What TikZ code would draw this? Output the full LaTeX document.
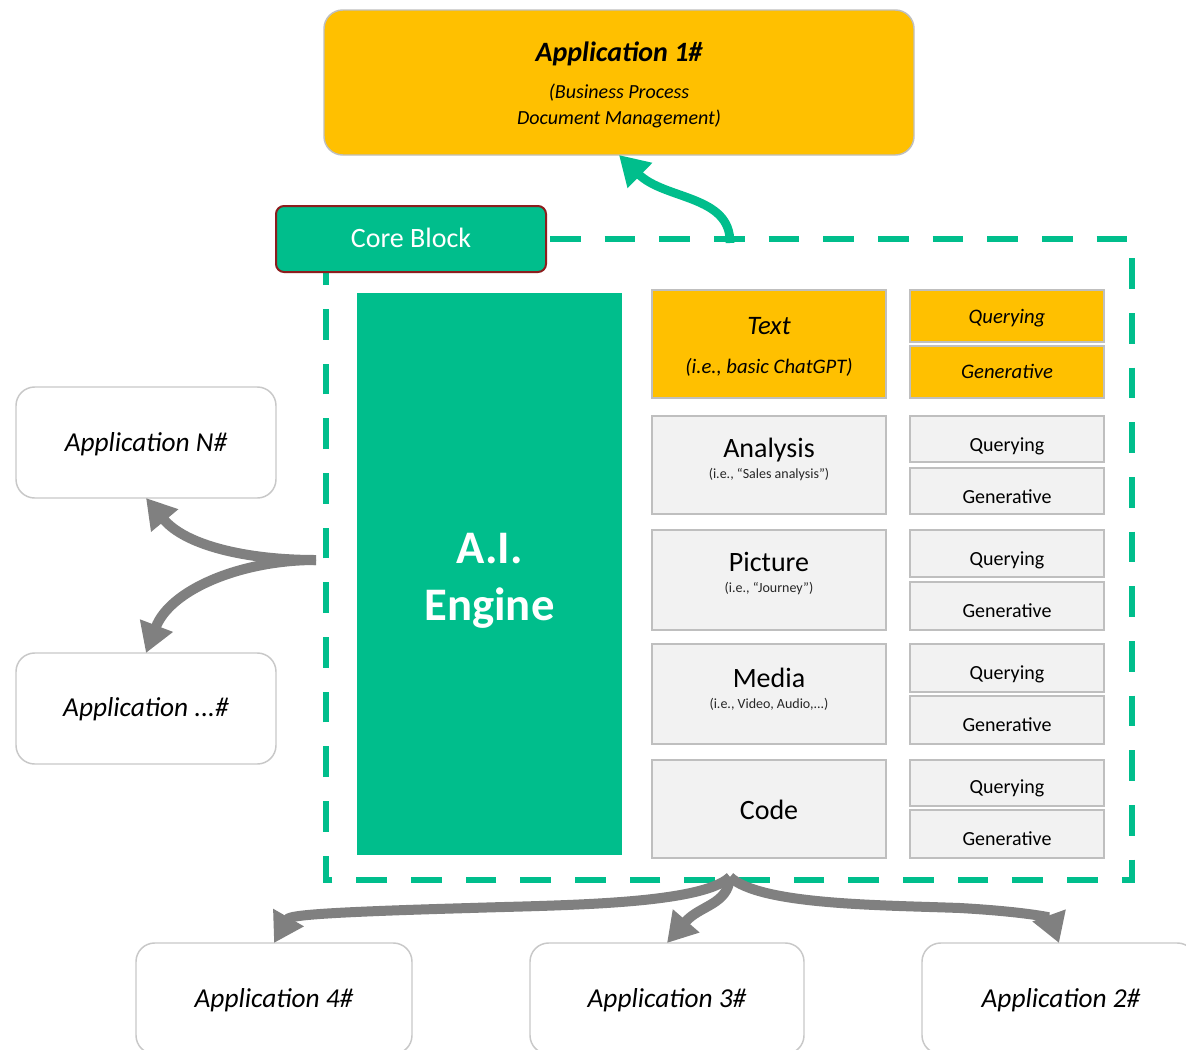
\documentclass[tikz,border=0pt]{standalone}
\usepackage{fontspec}
\setmainfont{Carlito}
\usetikzlibrary{arrows.meta}

\definecolor{coregreen}{RGB}{0,190,140}
\definecolor{amber}{RGB}{255,192,0}
\definecolor{panel}{RGB}{242,242,242}
\definecolor{panelline}{RGB}{191,191,191}
\definecolor{appline}{RGB}{200,200,200}
\definecolor{flowgray}{RGB}{128,128,128}
\definecolor{corered}{RGB}{140,30,30}

\tikzset{
  appbox/.style={draw=appline, line width=1.1pt, fill=white, rounded corners=14pt,
    minimum height=83.25pt, inner sep=0pt, outer sep=0pt},
  cell/.style={draw=panelline, line width=1.1pt, fill=panel, inner sep=0pt, outer sep=0pt},
  hotcell/.style={cell, fill=amber},
  leftcell/.style={minimum width=175.5pt},
  rightcell/.style={minimum width=145.5pt},
  apptext/.style={font=\fontsize{20.5}{24}\selectfont\itshape, anchor=base, inner sep=0pt},
  title/.style={font=\fontsize{21}{24}\selectfont, anchor=base, inner sep=0pt},
  subtitle/.style={font=\fontsize{10.5}{12}\selectfont, anchor=base, inner sep=0pt, text=black!85},
  mode/.style={font=\fontsize{15}{18}\selectfont, anchor=base, inner sep=0pt},
  dashframe/.style={draw=coregreen, line width=4.5pt, dash pattern=on 23pt off 18pt},
  flow/.style={draw=flowgray, line width=7.5pt, -{Triangle[length=22pt,width=25pt]}},
  upflow/.style={draw=coregreen, line width=6.5pt, -{Triangle[length=22pt,width=25pt]}},
}

\begin{document}
\begin{tikzpicture}[x=0.75pt,y=-0.75pt]
\useasboundingbox (0,0) rectangle (1186,1050);
\fill[white] (0,0) rectangle (1186,1050);
\clip (0,0) rectangle (1186,1050);

% top application
\node[appbox, fill=amber, draw=panelline, minimum width=442.5pt, minimum height=108.75pt] (app1) at (619,82.5) {};
\node[title, font=\fontsize{21}{24}\selectfont\bfseries\itshape] (app1t) at (619,61) {Application 1\#};
\node[mode, font=\fontsize{15}{18}\selectfont\itshape] (app1a) at (619,98) {(Business Process};
\node[mode, font=\fontsize{15}{18}\selectfont\itshape] (app1b) at (619,124) {Document Management)};

% dashed frame of the core block, starting next to the label
\draw[dashframe] (550,239) -- (1132,239) -- (1132,880) -- (326,880) -- (326,239) -- (550,239);

% core block label
\node[draw=corered, line width=1.5pt, fill=coregreen, rounded corners=6pt,
      minimum width=202.5pt, minimum height=49.5pt, inner sep=0pt] (core) at (411,239) {};
\node[title, text=white] (coret) at (411,247) {Core Block};

% A.I. engine
\node[fill=coregreen, minimum width=198.75pt, minimum height=421.5pt, inner sep=0pt] (engine) at (489.5,574) {};
\node[font=\fontsize{35}{40}\selectfont\bfseries, text=white, anchor=base, inner sep=0pt] (engA) at (489.5,563) {A.I.};
\node[font=\fontsize{35}{40}\selectfont\bfseries, text=white, anchor=base, inner sep=0pt] (engB) at (489.5,620) {Engine};

% content types
\node[hotcell, leftcell, minimum height=81pt] (cText) at (769,344) {};
\node[cell, leftcell, minimum height=73.5pt] (cAnalysis) at (769,465) {};
\node[cell, leftcell, minimum height=75pt] (cPicture) at (769,580) {};
\node[cell, leftcell, minimum height=75pt] (cMedia) at (769,694) {};
\node[cell, leftcell, minimum height=73.5pt] (cCode) at (769,809) {};

\node[title, font=\fontsize{20}{24}\selectfont\itshape] (tText) at (769,334) {Text};
\node[mode, font=\fontsize{15.5}{18}\selectfont\itshape] (sText) at (769,373) {(i.e., basic ChatGPT)};
\node[title] (tAnalysis) at (769,457) {Analysis};
\node[subtitle] (sAnalysis) at (769,478) {(i.e., “Sales analysis”)};
\node[title] (tPicture) at (769,571) {Picture};
\node[subtitle] (sPicture) at (769,592) {(i.e., “Journey”)};
\node[title] (tMedia) at (769,687) {Media};
\node[subtitle] (sMedia) at (769,708) {(i.e., Video, Audio,...)};
\node[title] (tCode) at (769,819) {Code};

% modes
\node[hotcell, rightcell, minimum height=39pt] (qText) at (1007,316) {};
\node[hotcell, rightcell, minimum height=39pt] (gText) at (1007,372) {};
\node[cell, rightcell, minimum height=34.5pt] (qAnalysis) at (1007,439) {};
\node[cell, rightcell, minimum height=34.5pt] (gAnalysis) at (1007,491) {};
\node[cell, rightcell, minimum height=35.25pt] (qPicture) at (1007,553.5) {};
\node[cell, rightcell, minimum height=36pt] (gPicture) at (1007,606) {};
\node[cell, rightcell, minimum height=36pt] (qMedia) at (1007,668) {};
\node[cell, rightcell, minimum height=36pt] (gMedia) at (1007,720) {};
\node[cell, rightcell, minimum height=34.5pt] (qCode) at (1007,783) {};
\node[cell, rightcell, minimum height=36pt] (gCode) at (1007,834) {};

\node[mode, font=\fontsize{15.5}{18}\selectfont\itshape] (qTextT) at (1007,323) {Querying};
\node[mode, font=\fontsize{15.5}{18}\selectfont\itshape] (gTextT) at (1007,378) {Generative};
\node[mode] (qAnalysisT) at (1007,451) {Querying};
\node[mode] (gAnalysisT) at (1007,503) {Generative};
\node[mode] (qPictureT) at (1007,565) {Querying};
\node[mode] (gPictureT) at (1007,617) {Generative};
\node[mode] (qMediaT) at (1007,679) {Querying};
\node[mode] (gMediaT) at (1007,731) {Generative};
\node[mode] (qCodeT) at (1007,793) {Querying};
\node[mode] (gCodeT) at (1007,845) {Generative};

% other applications
\node[appbox, minimum width=195pt] (appN) at (146,442.5) {};
\node[apptext] (appNt) at (146,451) {Application N\#};
\node[appbox, minimum width=195pt] (appDots) at (146,708.5) {};
\node[apptext] (appDotst) at (146,716) {Application ...\#};
\node[appbox, minimum width=207pt] (app4) at (274,998.5) {};
\node[apptext] (app4t) at (274,1007) {Application 4\#};
\node[appbox, minimum width=205.5pt] (app3) at (667,998.5) {};
\node[apptext] (app3t) at (667,1007) {Application 3\#};
\node[appbox, minimum width=205.5pt] (app2) at (1059,998.5) {};
\node[apptext] (app2t) at (1061,1007) {Application 2\#};

% outlets of the core block
\coordinate (outTop) at (730,243);
\coordinate (outLeft) at (316,560);
\coordinate (outBottom) at (730,877);

% flows
\draw[upflow] (outTop) .. controls (731,195) and (665,200) .. (app1.south);

\draw[flow] (outLeft) .. controls (245,560) and (185,545) .. (appN.south);
\draw[flow] (outLeft) .. controls (240,560) and (170,590) .. (appDots.north);

\draw[flow] (outBottom) .. controls (700,905) and (560,905) .. (470,908)
                        .. controls (330,912) and (290,915) .. (app4.north);
\draw[flow] (outBottom) .. controls (728,905) and (700,905) .. (app3.north);
\draw[flow] (outBottom) .. controls (760,905) and (880,905) .. (960,908)
                        .. controls (1030,912) and (1050,918) .. (app2.north);
\end{tikzpicture}
\end{document}
